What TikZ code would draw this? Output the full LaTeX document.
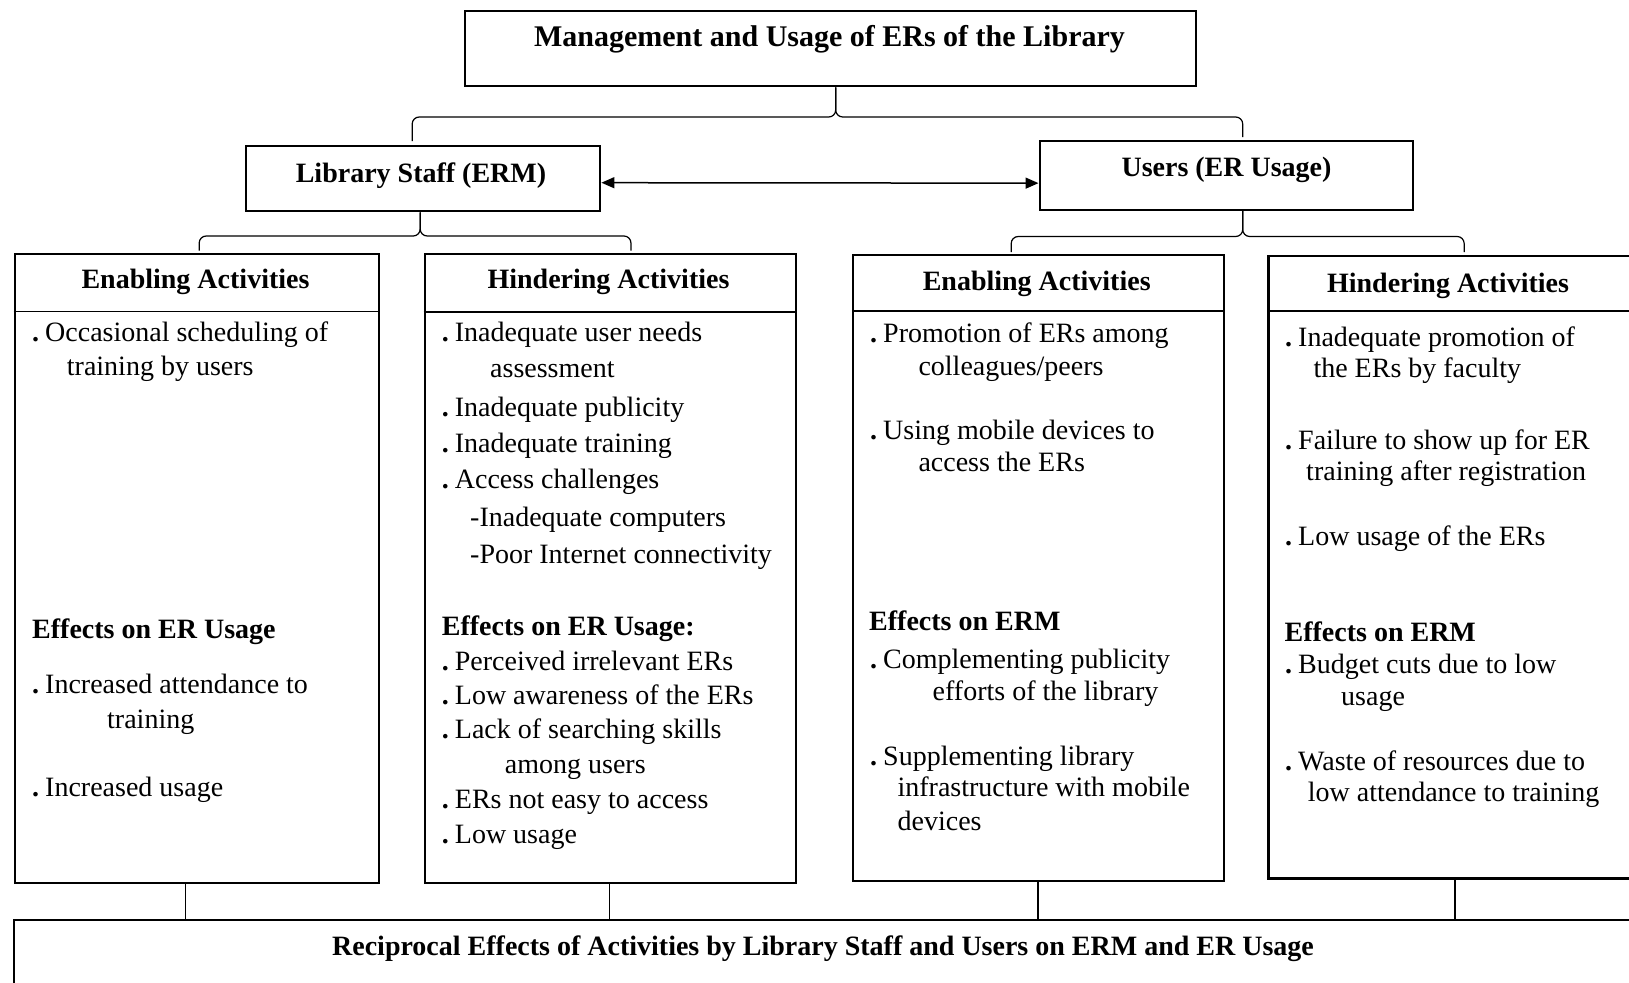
\documentclass[tikz,border=0pt]{standalone}
\usepackage{fontspec}
\setmainfont{Liberation Serif}
\usetikzlibrary{calc,arrows.meta}
% list marker: a heavy full stop followed by a short gap
\newcommand{\itemdot}{\textbf{.}\kern6pt}
\begin{document}
\begin{tikzpicture}[x=1pt,y=-1pt,
  frame/.style={draw, line width=2.4pt, inner sep=0pt, anchor=north west},
  body/.style={anchor=base west, inner sep=0pt, font=\fontsize{28}{33}\selectfont},
  sub/.style={anchor=base west, inner sep=0pt, font=\fontsize{28}{33}\selectfont\bfseries},
  head/.style={anchor=base, inner sep=0pt, font=\fontsize{28}{33}\selectfont\bfseries},
  brace/.style={line width=1.2pt, rounded corners=7pt},
  rule/.style={line width=1.4pt},
  conn/.style={line width=1.4pt},
  link/.style={line width=1.5pt, {Triangle[length=13pt,width=11pt]}-{Triangle[length=13pt,width=11pt]}}
]
\useasboundingbox (0,0) rectangle (1629,982);
\fill[white] (0,0) rectangle (1629,982);
\clip (0,0) rectangle (1629,982);

% ---- boxes ----
\node[frame, minimum width=731pt, minimum height=75pt] (top) at (464,10) {};
\node[frame, minimum width=354pt, minimum height=65pt] (staff) at (245,145) {};
\node[frame, minimum width=373pt, minimum height=68.5pt] (users) at (1038.5,140) {};
\node[frame, minimum width=364pt, minimum height=629pt] (A) at (13.5,252.5) {};
\node[frame, minimum width=371.5pt, minimum height=629pt] (B) at (423.5,252.5) {};
\node[frame, minimum width=371pt, minimum height=626pt] (C) at (852,254) {};
\node[frame, minimum width=372.7pt, minimum height=622.3pt] (D) at (1267.3,255) {};
\node[frame, minimum width=1700pt, minimum height=200pt] (bot) at (12.5,919) {};

% ---- box titles ----
\node[head, font=\fontsize{30}{36}\selectfont\bfseries] (ttop) at (829.5,46.7) {Management and Usage of ERs of the Library};
\node[head] (tstaff) at (421,182.5) {Library Staff (ERM)};
\node[head] (tusers) at (1226.5,176.7) {Users (ER Usage)};
\node[head] (tbot) at (823,955) {Reciprocal Effects of Activities by Library Staff and Users on ERM and ER Usage};

\node[head] (hA) at (195.5,288.3) {Enabling Activities};
\node[head] (hB) at (608.5,288.3) {Hindering Activities};
\node[head] (hC) at (1036.7,290) {Enabling Activities};
\node[head] (hD) at (1448,292.3) {Hindering Activities};

% header separators
\draw[rule] ($(A.north west)+(0,58.8)$) -- ($(A.north east)+(0,58.8)$);
\draw[rule] ($(B.north west)+(0,59.5)$) -- ($(B.north east)+(0,59.5)$);
\draw[rule] ($(C.north west)+(0,57)$) -- ($(C.north east)+(0,57)$);
\draw[rule] ($(D.north west)+(0,56)$) -- ($(D.north east)+(0,56)$);

% ---- staff: enabling ----
\node[body] (a1) at (32,341) {\itemdot Occasional scheduling of};
\node[body] (a2) at (66.7,375) {training by users};
\node[sub]  (a3) at (32,638) {Effects on ER Usage};
\node[body] (a4) at (32,693) {\itemdot Increased attendance to};
\node[body] (a5) at (107,728) {training};
\node[body] (a6) at (32,796.7) {\itemdot Increased usage};

% ---- staff: hindering ----
\node[body] (b1) at (441.7,341) {\itemdot Inadequate user needs};
\node[body] (b2) at (490,377.7) {assessment};
\node[body] (b3) at (441.7,416) {\itemdot Inadequate publicity};
\node[body] (b4) at (441.7,452.7) {\itemdot Inadequate training};
\node[body] (b5) at (441.7,488.3) {\itemdot Access challenges};
\node[body] (b6) at (470,526.7) {-Inadequate computers};
\node[body] (b7) at (470,563.3) {-Poor Internet connectivity};
\node[sub]  (b8) at (441.7,635) {Effects on ER Usage:};
\node[body] (b9) at (441.7,670) {\itemdot Perceived irrelevant ERs};
\node[body] (b10) at (441.7,704) {\itemdot Low awareness of the ERs};
\node[body] (b11) at (441.7,738) {\itemdot Lack of searching skills};
\node[body] (b12) at (504.7,773) {among users};
\node[body] (b13) at (441.7,808) {\itemdot ERs not easy to access};
\node[body] (b14) at (441.7,843) {\itemdot Low usage};

% ---- users: enabling ----
\node[body] (c1) at (870,342.7) {\itemdot Promotion of ERs among};
\node[body] (c2) at (918.3,375) {colleagues/peers};
\node[body] (c3) at (870,439.3) {\itemdot Using mobile devices to};
\node[body] (c4) at (918.3,471) {access the ERs};
\node[sub]  (c5) at (869,630.7) {Effects on ERM};
\node[body] (c6) at (870,668) {\itemdot Complementing publicity};
\node[body] (c7) at (932.5,700) {efforts of the library};
\node[body] (c8) at (870,765) {\itemdot Supplementing library};
\node[body] (c9) at (897.4,796.7) {infrastructure with mobile};
\node[body] (c10) at (897.4,830) {devices};

% ---- users: hindering ----
\node[body] (d1) at (1285,346) {\itemdot Inadequate promotion of};
\node[body] (d2) at (1313.3,377.7) {the ERs by faculty};
\node[body] (d3) at (1285,449.3) {\itemdot Failure to show up for ER};
\node[body] (d4) at (1306,480.7) {training after registration};
\node[body] (d5) at (1285,545) {\itemdot Low usage of the ERs};
\node[sub]  (d6) at (1284.4,641.7) {Effects on ERM};
\node[body] (d7) at (1285,673) {\itemdot Budget cuts due to low};
\node[body] (d8) at (1341,705) {usage};
\node[body] (d9) at (1285,770) {\itemdot Waste of resources due to};
\node[body] (d10) at (1307.6,801.7) {low attendance to training};

% ---- braces ----
\coordinate (t0) at ($(top.south)+(5,0)$);
\draw[brace] (t0) |- ($(staff.north)+(-11,-28)$) -- ($(staff.north)+(-11,-4)$);
\draw[brace] (t0) |- ($(users.north)+(16.5,-23)$) -- ($(users.north)+(16.5,-3)$);

\coordinate (s0) at ($(staff.south)+(-3,0)$);
\draw[brace] (s0) |- ($(A.north)+(2.5,-16.5)$) -- ($(A.north)+(2.5,-2)$);
\draw[brace] (s0) |- ($(B.north)+(20.5,-16.5)$) -- ($(B.north)+(20.5,-2)$);

\coordinate (u0) at ($(users.south)+(16.5,0)$);
\draw[brace] (u0) |- ($(C.north)+(-27.5,-17.5)$) -- ($(C.north)+(-27.5,-2)$);
\draw[brace] (u0) |- ($(D.north)+(9.3,-18.5)$) -- ($(D.north)+(9.3,-3)$);

% ---- reciprocal link between staff and users ----
\draw[link] ($(staff.east)+(0,4)$) -- ($(users.west)+(0,7.7)$);

% ---- connectors to the bottom box ----
\coordinate (ca) at ($(A.south)+(-11.5,0)$);
\coordinate (cb) at ($(B.south)+(-1,0)$);
\coordinate (cc) at ($(C.south)+(-0.8,0)$);
\coordinate (cd) at ($(D.south)+(0.3,0)$);
\draw[conn] (ca) -- (ca |- bot.north);
\draw[conn] (cb) -- (cb |- bot.north);
\draw[conn] (cc) -- (cc |- bot.north);
\draw[conn] (cd) -- (cd |- bot.north);
\end{tikzpicture}
\end{document}
